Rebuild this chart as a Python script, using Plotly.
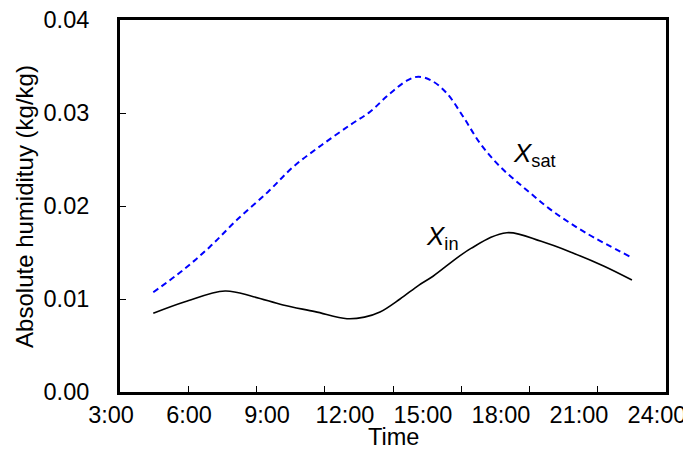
import plotly.graph_objects as go

# Time in hours
t_in = [4.28, 5.5, 7.04, 8.13, 9.27, 10.5, 11.73, 12.4, 13.0, 13.77, 14.5, 15.04, 16.5, 17.88, 19.2, 20.42, 21.6, 22.69]
x_in = [0.00846, 0.0097, 0.01086, 0.01025, 0.00935, 0.00864, 0.00788, 0.00805, 0.0086, 0.0100, 0.0115, 0.01245, 0.01545, 0.01713, 0.0162, 0.01495, 0.01355, 0.01204]

t_sat = [4.28, 5.43, 6.46, 7.49, 8.70, 9.67, 10.76, 11.85, 12.62, 13.32, 14.03, 14.47, 14.99, 15.57, 16.20, 16.85, 17.62, 18.64, 19.67, 20.95, 22.62]
x_sat = [0.01072, 0.01312, 0.01562, 0.01849, 0.02154, 0.02423, 0.02656, 0.02871, 0.03014, 0.03194, 0.03347, 0.0339, 0.03347, 0.03212, 0.0296, 0.02674, 0.02423, 0.02172, 0.01939, 0.01706, 0.01455]

label_hours = [3, 6, 9, 12, 15, 18, 21, 24]
label_text = ["3:00", "6:00", "9:00", "12:00", "15:00", "18:00", "21:00", "24:00"]
tick_marks = [3 + k * 21 / 8 for k in range(9)]
y_ticks = [0.0, 0.01, 0.02, 0.03, 0.04]
y_text = ["0.00", "0.01", "0.02", "0.03", "0.04"]

FONT = "Liberation Sans, Arial, sans-serif"

fig = go.Figure()
fig.add_trace(go.Scatter(x=t_sat, y=x_sat, mode="lines", line=dict(color="#0000ff", width=2, dash="6px,4px", shape="spline", smoothing=1), showlegend=False))
fig.add_trace(go.Scatter(x=t_in, y=x_in, mode="lines", line=dict(color="black", width=1.6, shape="spline", smoothing=1), showlegend=False))
fig.add_trace(go.Scatter(x=[3, 24], y=[None, None], xaxis="x2", showlegend=False, hoverinfo="skip"))

# page body has an 8px default margin; figure sized to fit the 691x450 window
fig.update_layout(
    width=683, height=442,
    margin=dict(l=112, r=25, t=12, b=58, autoexpand=False),
    paper_bgcolor="white", plot_bgcolor="white",
    font=dict(family=FONT, color="black", size=20),
    xaxis=dict(range=[3, 24], tickvals=label_hours, ticktext=label_text, ticks="",
               showgrid=False, zeroline=False, showline=True, linecolor="black", linewidth=3, mirror=True,
               tickfont=dict(size=23.5), ticklabelshift=-9, ticklabelstandoff=0, automargin=False,
               ticklabeloverflow="allow"),
    xaxis2=dict(range=[3, 24], overlaying="x", anchor="y", side="bottom", tickvals=tick_marks,
                ticks="inside", ticklen=6, tickwidth=1, tickcolor="black", showticklabels=False,
                showgrid=False, zeroline=False, showline=False, automargin=False),
    yaxis=dict(range=[0, 0.04], tickvals=y_ticks, ticktext=y_text, ticks="inside", ticklen=6, tickwidth=1,
               tickcolor="black", showgrid=False, zeroline=False, showline=True, linecolor="black",
               linewidth=3, mirror=True, tickfont=dict(size=23.5), ticklabelstandoff=23, automargin=False,
               ticklabeloverflow="allow"),
    annotations=[
        dict(x=-0.176, y=0.5, xref="paper", yref="paper", xanchor="center", yanchor="middle",
             text="Absolute humidituy (kg/kg)", textangle=-90, showarrow=False, font=dict(size=24)),
        dict(x=0.5, y=-0.080, xref="paper", yref="paper", xanchor="center", yanchor="top",
             text="Time", showarrow=False, font=dict(size=23.5)),
        dict(x=18.04, y=0.0255, xref="x", yref="y", text="<i>X</i><sub>sat</sub>", showarrow=False,
             xanchor="left", yanchor="middle", font=dict(size=26)),
        dict(x=14.7, y=0.0166, xref="x", yref="y", text="<i>X</i><sub>in</sub>", showarrow=False,
             xanchor="left", yanchor="middle", font=dict(size=26)),
    ],
)

fig.write_html("out.html")
